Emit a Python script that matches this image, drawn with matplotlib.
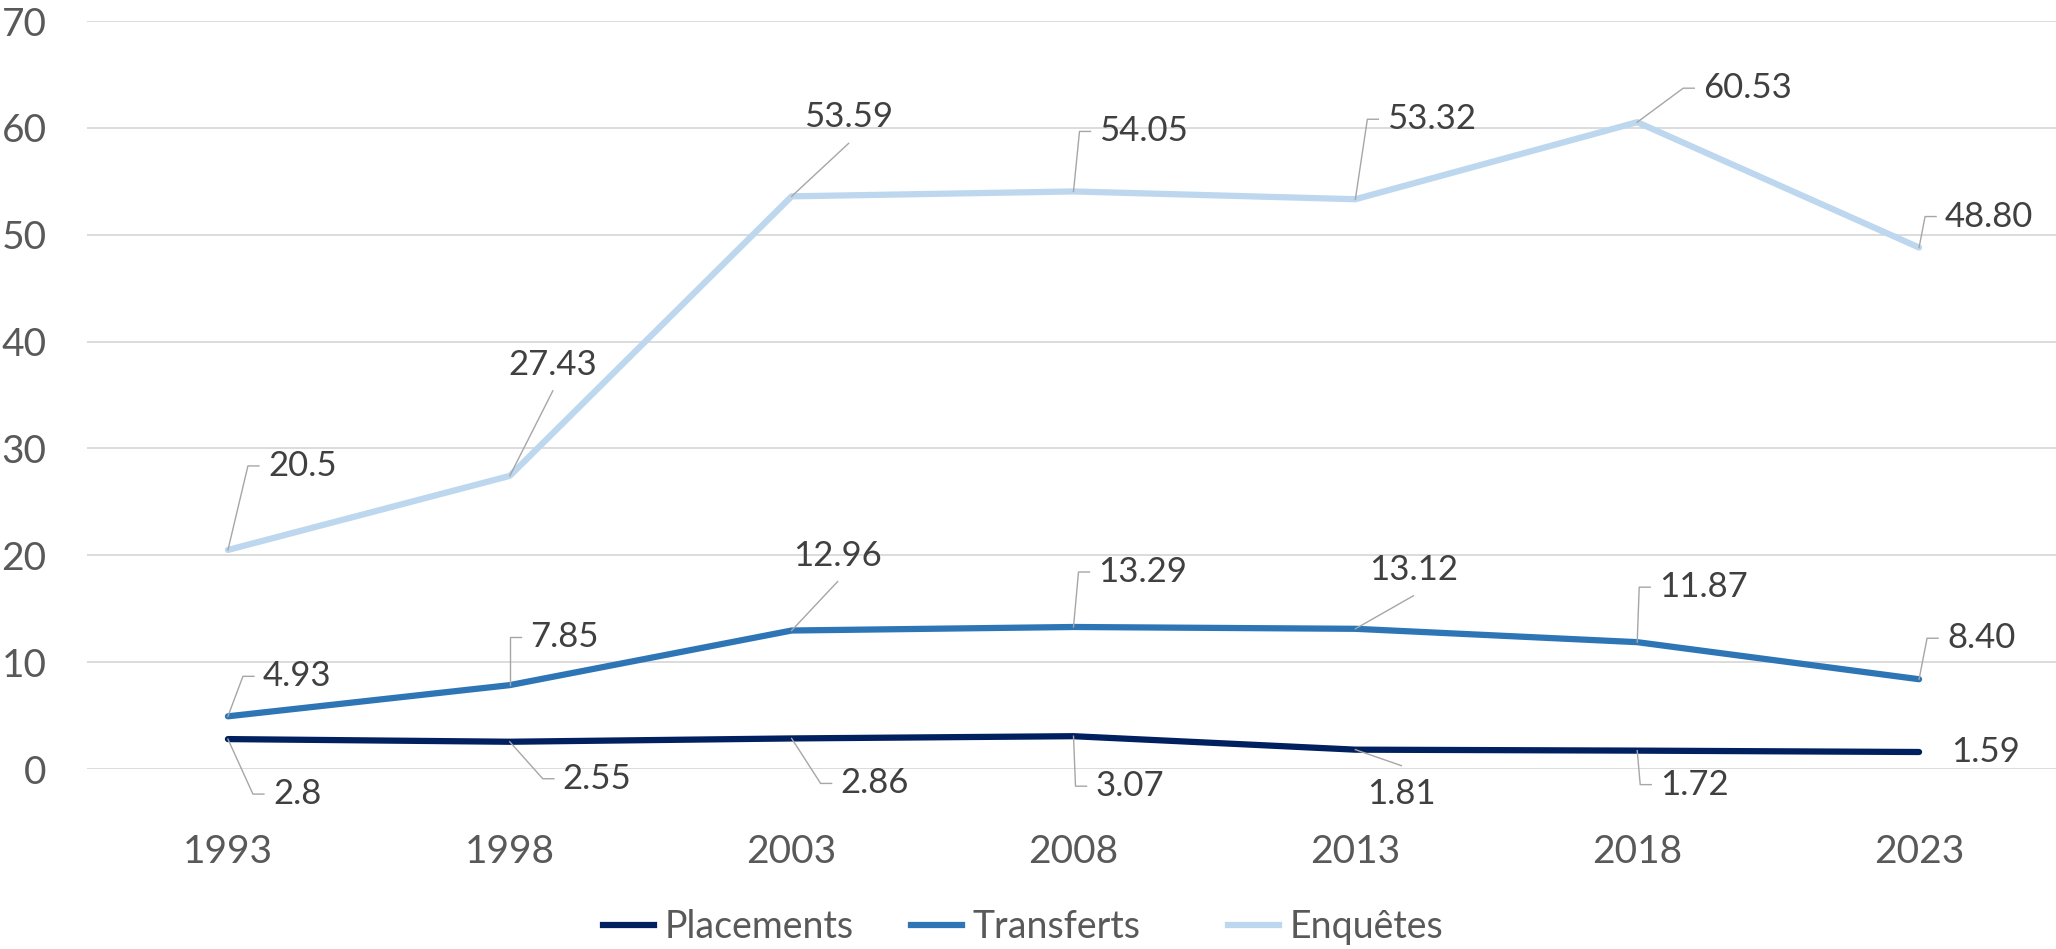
import matplotlib
matplotlib.use('Agg')
import matplotlib.pyplot as plt
import matplotlib.transforms as mtransforms
from matplotlib.lines import Line2D

# Chart data
years = ['1993', '1998', '2003', '2008', '2013', '2018', '2023']
placements = [2.8, 2.55, 2.86, 3.07, 1.81, 1.72, 1.59]
transferts = [4.93, 7.85, 12.96, 13.29, 13.12, 11.87, 8.40]
enquetes = [20.5, 27.43, 53.59, 54.05, 53.32, 60.53, 48.80]
placements_txt = ['2.8', '2.55', '2.86', '3.07', '1.81', '1.72', '1.59']
transferts_txt = ['4.93', '7.85', '12.96', '13.29', '13.12', '11.87', '8.40']
enquetes_txt = ['20.5', '27.43', '53.59', '54.05', '53.32', '60.53', '48.80']
series_names = ['Placements', 'Transferts', 'Enquêtes']

# Label placement in pixels relative to the point (image coords, y down)
# 'elbow': dx, dy = left/middle of text ; 'diag': dx, dy = centre of text
placements_pos = [(45, 55, 'elbow'), (53, 37, 'elbow'), (49, 45, 'elbow'), (22, 50, 'elbow'),
                  (46, 44, 'diag'), (23, 34, 'elbow'), (32, 0, 'none')]
transferts_pos = [(35, -40, 'elbow'), (20, -48, 'elbow'), (46, -75, 'diag'), (25, -55, 'elbow'),
                  (58, -59, 'diag'), (22, -55, 'elbow'), (28, -41, 'elbow')]
enquetes_pos = [(40, -84, 'elbow'), (43, -111, 'diag'), (57, -79, 'diag'), (26, -60, 'elbow'),
                (32, -80, 'elbow'), (66, -34, 'elbow'), (26, -31, 'elbow')]

colors = ['#002060', '#2E75B6', '#BDD7EE']
font = ['Lato', 'DejaVu Sans']
plt.rcParams['font.family'] = font

W, H = 2056, 949
fig = plt.figure(figsize=(W / 100, H / 100), dpi=100)
ax = fig.add_axes([87 / W, 180 / H, 1973 / W, 748 / H])
ax.set_xlim(-0.5, 6.5)
ax.set_ylim(0, 70)

x = list(range(len(years)))
all_vals = [placements, transferts, enquetes]
all_txt = [placements_txt, transferts_txt, enquetes_txt]
all_pos = [placements_pos, transferts_pos, enquetes_pos]

for vals, col, name in zip(all_vals, colors, series_names):
    ax.plot(x, vals, color=col, linewidth=4.5, solid_capstyle='round',
            solid_joinstyle='round', label=name, zorder=3)

# grid and axes
ax.set_yticks(range(0, 71, 10))
ax.set_xticks(x)
ax.set_xticklabels(years)
ax.grid(axis='y', color='#D9D9D9', linewidth=1.3)
ax.set_axisbelow(True)
for s in ax.spines.values():
    s.set_visible(False)
ax.tick_params(axis='y', length=0, pad=29, labelsize=28, labelcolor='#595959')
ax.tick_params(axis='x', length=0, pad=47, labelsize=28, labelcolor='#595959')

# data labels with leader lines (drawn in display pixels)
ident = mtransforms.IdentityTransform()
for vals, txts, poss in zip(all_vals, all_txt, all_pos):
    for i, (v, t, (dx, dy, kind)) in enumerate(zip(vals, txts, poss)):
        px, py = ax.transData.transform((i, v))
        tx, ty = px + dx, py - dy
        if kind == 'diag':
            ax.text(tx, ty, t, transform=ident, ha='center', va='center',
                    fontsize=25, color='#404040')
            ey = ty - 26 if dy < 0 else ty + 28
            ax.plot([px, tx], [py, ey], transform=ident, color='#A6A6A6',
                    linewidth=1, clip_on=False, zorder=4)
        else:
            ax.text(tx, ty, t, transform=ident, ha='left', va='center',
                    fontsize=25, color='#404040')
            if kind == 'elbow':
                ax.plot([px, tx - 20, tx - 9], [py, ty, ty], transform=ident,
                        color='#A6A6A6', linewidth=1, clip_on=False, zorder=4)

# legend: one entry per legend so each can sit where Excel put it
legend_x = [603, 911, 1228]
for c, name, lx in zip(colors, series_names, legend_x):
    leg = fig.legend([Line2D([0], [0], color=c, linewidth=4.5)], [name],
                     loc='center left', bbox_to_anchor=(lx / W, 22 / H),
                     frameon=False, fontsize=27, handlelength=1.35,
                     handletextpad=0.3, borderpad=0, borderaxespad=0)
    for t in leg.get_texts():
        t.set_color('#595959')

fig.savefig('out.png', dpi=100)
